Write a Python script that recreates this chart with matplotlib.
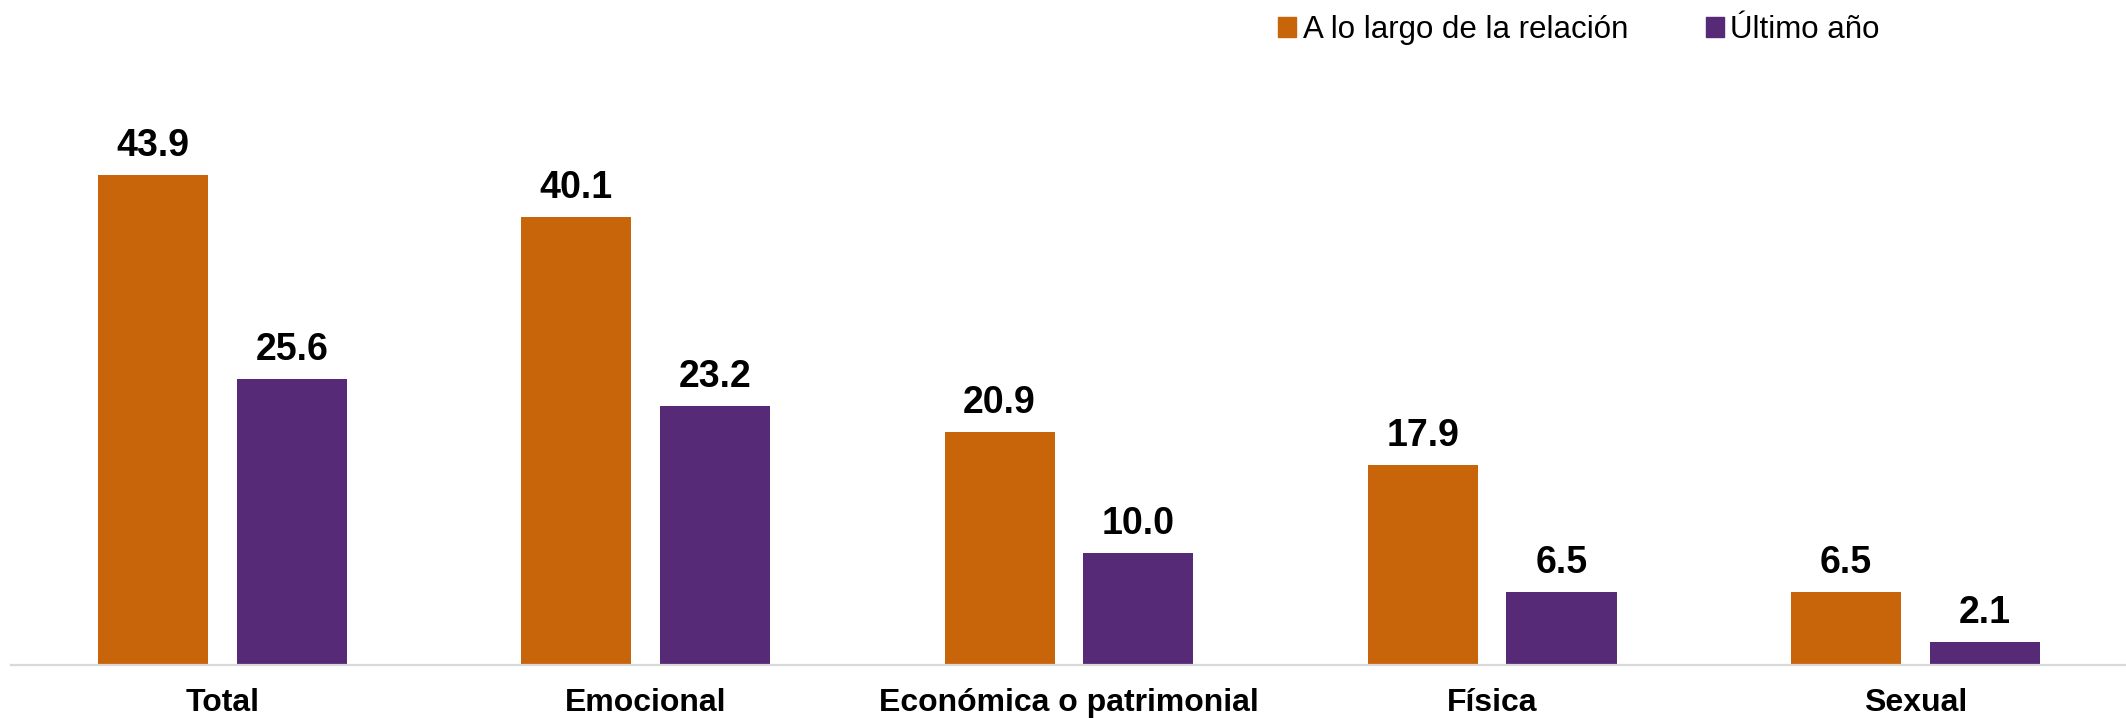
import matplotlib.pyplot as plt
import numpy as np
from matplotlib.patches import Patch

categories = ['Total', 'Emocional', 'Económica o patrimonial', 'Física', 'Sexual']
a_lo_largo = [43.9, 40.1, 20.9, 17.9, 6.5]
ultimo_anio = [25.6, 23.2, 10.0, 6.5, 2.1]
series_names = ['A lo largo de la relación', 'Último año']

ORANGE = '#C8650B'
PURPLE = '#562A77'

plt.rcParams['font.family'] = ['Liberation Sans', 'DejaVu Sans']

W, H = 2126, 718
fig = plt.figure(figsize=(W / 100, H / 100), dpi=100)
# axes in pixel terms: baseline at y=665, left edge x=11
ax = fig.add_axes([11 / W, 53 / H, (W - 11) / W, 614 / H])

x = np.arange(len(categories))
width = 0.26
offset = 0.164

bars1 = ax.bar(x - offset, a_lo_largo, width, color=ORANGE)
bars2 = ax.bar(x + offset, ultimo_anio, width, color=PURPLE)

for bars, vals in ((bars1, a_lo_largo), (bars2, ultimo_anio)):
    for b, v in zip(bars, vals):
        ax.annotate(f'{v:.1f}', (b.get_x() + b.get_width() / 2, b.get_height()),
                    xytext=(0, 13.7), textcoords='offset points',
                    ha='center', va='baseline', fontsize=27, fontweight='bold')

ax.set_xlim(-0.5, 4.498)
ax.set_ylim(0, 55)
ax.set_xticks(x)
ax.set_xticklabels(categories, fontsize=23, fontweight='bold')
ax.tick_params(axis='x', length=0, pad=16.5)
ax.set_yticks([])

for s in ('top', 'right', 'left'):
    ax.spines[s].set_visible(False)
ax.spines['bottom'].set_color('#D9D9D9')
ax.spines['bottom'].set_linewidth(1.6)

handles = [Patch(color=ORANGE), Patch(color=PURPLE)]
fig.legend(handles, series_names, loc='center right', bbox_to_anchor=(1880 / W, 1 - 30 / H),
           ncol=2, frameon=False, fontsize=22.5, handlelength=0.58, handleheight=0.58,
           handletextpad=0.2, columnspacing=2.5, borderaxespad=0, borderpad=0)

fig.savefig('out.png', dpi=100)
